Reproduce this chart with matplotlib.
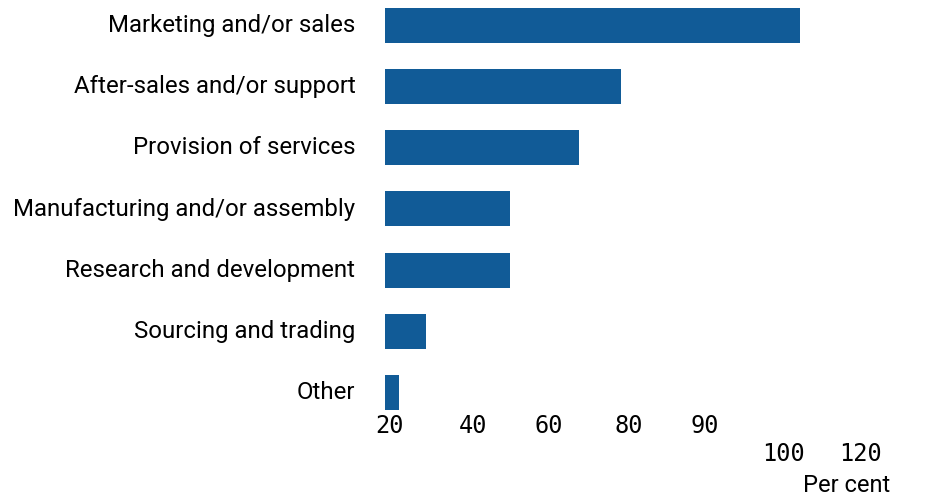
import matplotlib
matplotlib.use("Agg")
import matplotlib.pyplot as plt
import matplotlib.transforms as mtransforms

plt.rcParams.update({
    "font.family": ["Roboto", "DejaVu Sans"],
})

# --- data ---
categories = [
    "Marketing and/or sales",
    "After-sales and/or support",
    "Provision of services",
    "Manufacturing and/or assembly",
    "Research and development",
    "Sourcing and trading",
    "Other",
]
values = [105.7, 60.0, 49.4, 31.8, 31.8, 10.5, 3.6]

# tick labels as printed in the reference (last two sit one row lower)
tick_pos = [1.2, 22.3, 41.7, 62.1, 81.5, 101.4, 121.2]
tick_labels = ["20", "40", "60", "80", "90", "\n100", "\n120"]

BAR_COLOR = "#115b97"

fig = plt.figure(figsize=(9.34, 5.02), dpi=100)
ax = fig.add_axes([0.4125, 0.1813, 0.5404, 0.8187])

ypos = list(range(len(categories)))
ax.barh(ypos, values, height=0.572, color=BAR_COLOR)

ax.set_ylim(6.286, -0.433)
ax.set_xlim(0, 128.6)

ax.set_yticks(ypos)
ax.set_yticklabels(categories, fontsize=17.3)
ax.tick_params(axis="y", length=0, pad=21.5)
# labels sit a touch above the bar centre in the reference
shift = mtransforms.ScaledTranslation(0, 2.5 / 72, fig.dpi_scale_trans)
for lab in ax.get_yticklabels():
    lab.set_transform(lab.get_transform() + shift)

ax.set_xticks(tick_pos)
ax.set_xticklabels(tick_labels, fontsize=17, family=["DejaVu Sans Mono"])
ax.tick_params(axis="x", length=0, pad=2)

ax.set_xlabel("Per cent", loc="right", fontsize=17, labelpad=6)

for s in ax.spines.values():
    s.set_visible(False)

fig.savefig("out.png", dpi=100, facecolor="white")
